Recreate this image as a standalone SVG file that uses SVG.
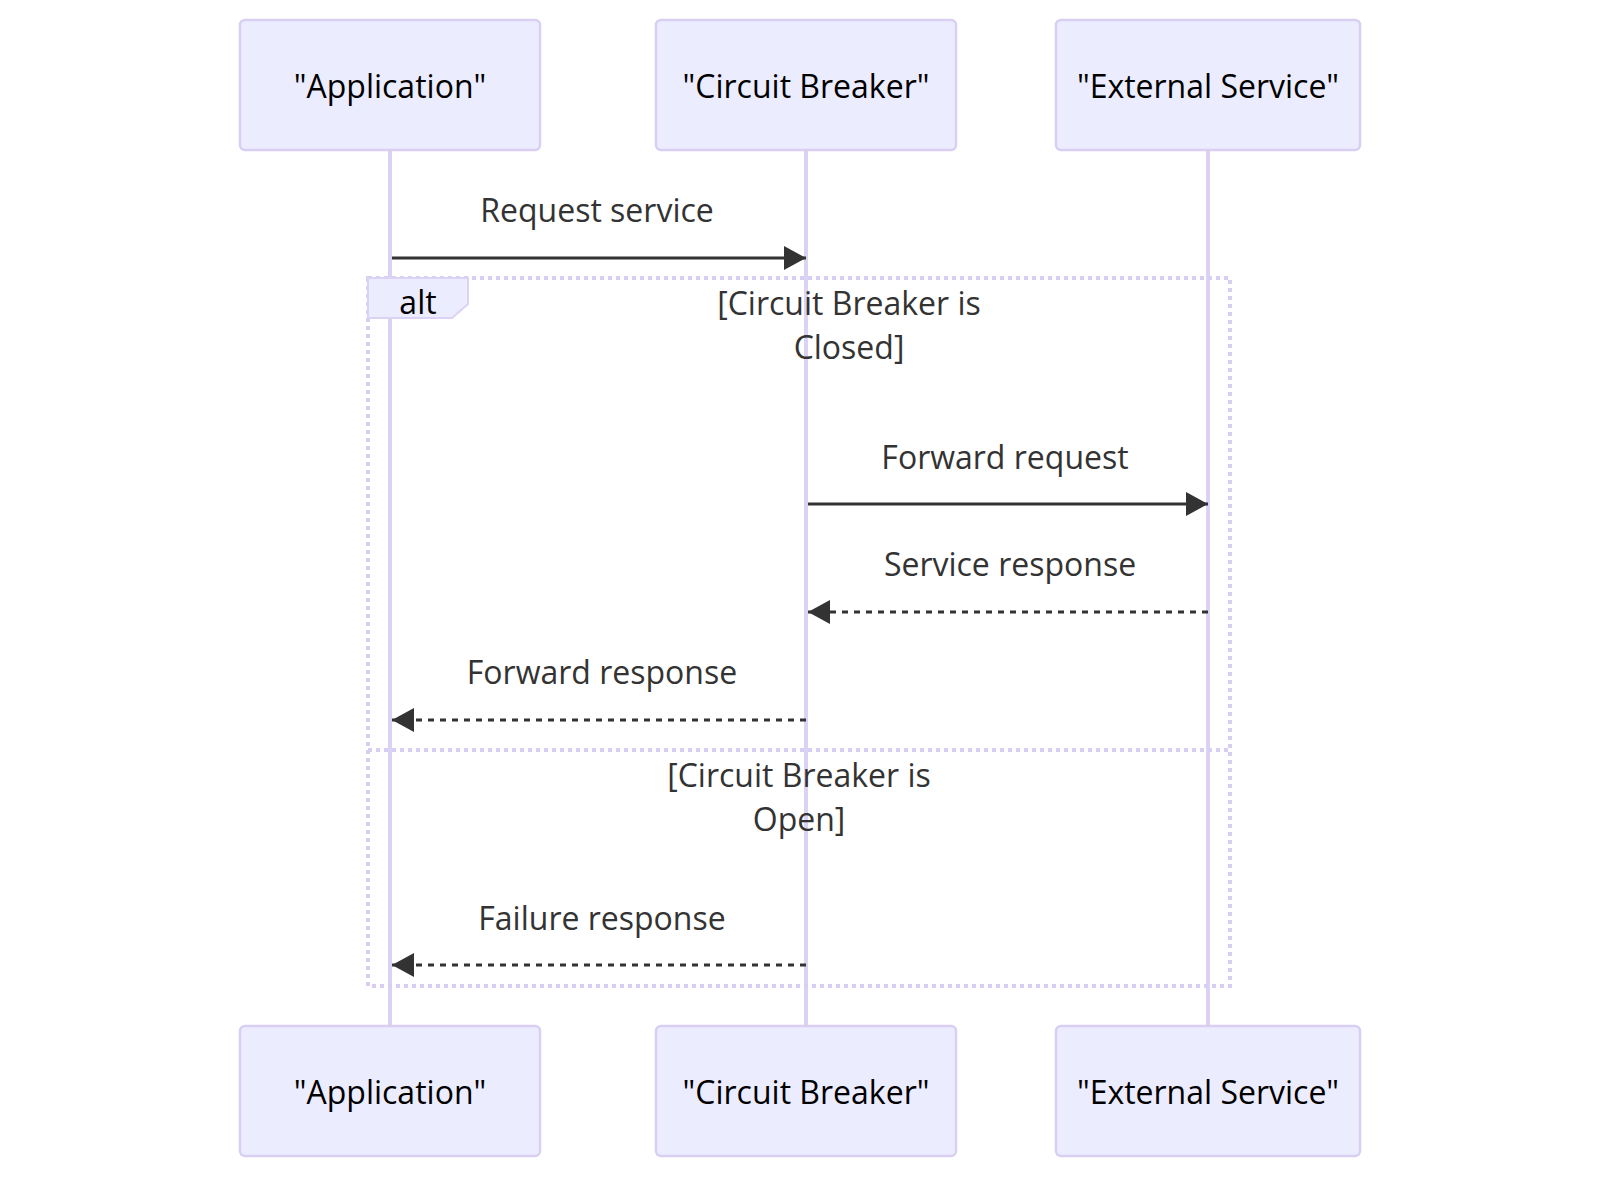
<svg xmlns="http://www.w3.org/2000/svg" width="1600" height="1178" viewBox="0 0 1600 1178">
<style>
.actor{fill:#ECECFF;stroke:#D9CFF2;stroke-width:2.5}
.atext{font-family:"Open Sans","Liberation Sans",sans-serif;font-size:32px;fill:#000;text-anchor:middle;dominant-baseline:central}
.life{stroke:#DCD2F3;stroke-width:4}
.msg{stroke:#333;stroke-width:3;fill:none}
.dash{stroke-dasharray:6,6}
.mtext{font-family:"Open Sans","Liberation Sans",sans-serif;font-size:32px;fill:#333;text-anchor:middle;dominant-baseline:central}
.frame{stroke:#D8CEF2;stroke-width:4;fill:none;stroke-dasharray:4,4}
.lbl{fill:#ECECFF;stroke:#DCD2F3;stroke-width:2}
</style>
<defs>
<marker id="ah" markerWidth="22" markerHeight="24" refX="22" refY="12" orient="auto" markerUnits="userSpaceOnUse">
<path d="M0,0 L22,12 L0,24 z" fill="#333"/>
</marker>
</defs>
<g id="lifelines">
<line class="life" x1="390" y1="150" x2="390" y2="1026"/>
<line class="life" x1="806" y1="150" x2="806" y2="1026"/>
<line class="life" x1="1208" y1="150" x2="1208" y2="1026"/>
</g>
<g id="actor-app-top"><rect class="actor" x="240" y="20" width="300" height="130" rx="5"/><text class="atext" x="390" y="85">"Application"</text></g>
<g id="actor-cb-top"><rect class="actor" x="656" y="20" width="300" height="130" rx="5"/><text class="atext" x="806" y="85">"Circuit Breaker"</text></g>
<g id="actor-ext-top"><rect class="actor" x="1056" y="20" width="304" height="130" rx="5"/><text class="atext" x="1208" y="85">"External Service"</text></g>
<g id="actor-app-bottom"><rect class="actor" x="240" y="1026" width="300" height="130" rx="5"/><text class="atext" x="390" y="1091">"Application"</text></g>
<g id="actor-cb-bottom"><rect class="actor" x="656" y="1026" width="300" height="130" rx="5"/><text class="atext" x="806" y="1091">"Circuit Breaker"</text></g>
<g id="actor-ext-bottom"><rect class="actor" x="1056" y="1026" width="304" height="130" rx="5"/><text class="atext" x="1208" y="1091">"External Service"</text></g>
<g id="alt-frame">
<rect class="frame" x="368" y="278" width="862" height="708"/>
<line class="frame" x1="368" y1="750" x2="1230" y2="750"/>
<polygon class="lbl" points="368,278 468,278 468,304 452,318 368,318"/>
<text class="mtext" x="418" y="301" style="fill:#000">alt</text>
<text class="mtext" x="849" y="302">[Circuit Breaker is</text>
<text class="mtext" x="849" y="346">Closed]</text>
<text class="mtext" x="799" y="774">[Circuit Breaker is</text>
<text class="mtext" x="799" y="818">Open]</text>
</g>
<g id="connectors">
<line class="msg" x1="392" y1="258" x2="806" y2="258" marker-end="url(#ah)"/>
<text class="mtext" x="597" y="209">Request service</text>
<line class="msg" x1="808" y1="504" x2="1208" y2="504" marker-end="url(#ah)"/>
<text class="mtext" x="1005" y="456">Forward request</text>
<line class="msg dash" x1="1208" y1="612" x2="808" y2="612" marker-end="url(#ah)"/>
<text class="mtext" x="1010" y="563">Service response</text>
<line class="msg dash" x1="806" y1="720" x2="392" y2="720" marker-end="url(#ah)"/>
<text class="mtext" x="602" y="671">Forward response</text>
<line class="msg dash" x1="806" y1="965" x2="392" y2="965" marker-end="url(#ah)"/>
<text class="mtext" x="602" y="917">Failure response</text>
</g>
</svg>
